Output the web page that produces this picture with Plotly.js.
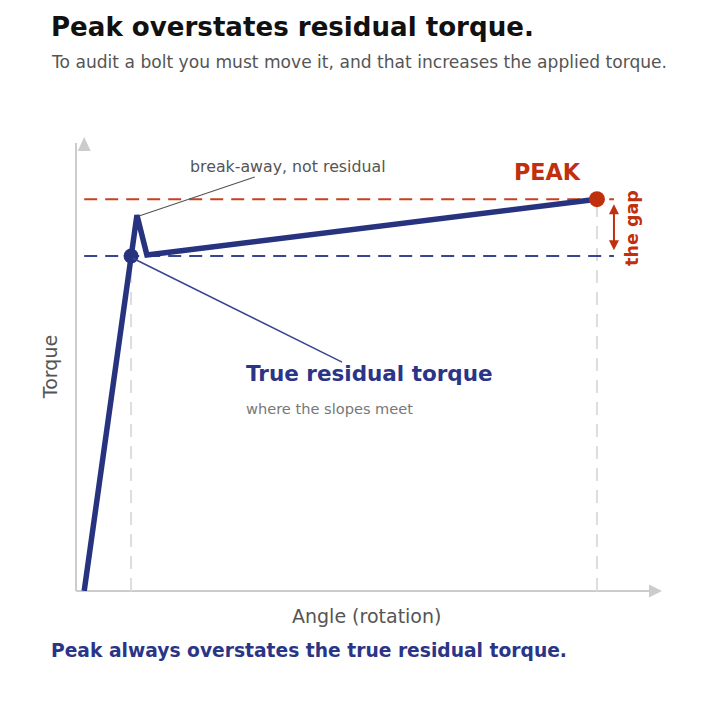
<!DOCTYPE html>
<html>
<head>
<meta charset="utf-8">
<script src="https://cdn.plot.ly/plotly-3.0.1.min.js"></script>
<style>
  html, body { margin: 0; padding: 0; background: #fff; }
  #chart { width: 724px; height: 726px; }
</style>
</head>
<body>
<div id="chart"></div>
<script>
// torque vs angle trace (angle 0-100, torque 0-100)
var curveAngle  = [1.4, 10.4, 12.1, 88.9];
var curveTorque = [0, 82.8, 74.0, 86.3];

var residualAngle  = [9.4];
var residualTorque = [73.8];
var peakAngle  = [88.9];
var peakTorque = [86.3];

var refStart = 1.4;   // where the dashed guides begin
var refEnd   = 91.8;  // where they stop, also the gap arrow

var navy = '#27337f';
var red  = '#c1300d';
var font = 'DejaVu Sans, sans-serif';

var traces = [
  {
    x: curveAngle, y: curveTorque,
    type: 'scatter', mode: 'lines',
    line: {color: navy, width: 5.5},
    hoverinfo: 'skip'
  },
  {
    x: residualAngle, y: residualTorque,
    type: 'scatter', mode: 'markers',
    marker: {color: navy, size: 15},
    hoverinfo: 'skip'
  },
  {
    x: peakAngle, y: peakTorque,
    type: 'scatter', mode: 'markers',
    marker: {color: red, size: 16},
    hoverinfo: 'skip'
  }
];

var shapes = [
  // axes, in paper space so nothing gets clipped
  {type: 'line', xref: 'paper', yref: 'paper', x0: 0, x1: 0, y0: 0, y1: 0.987,
   line: {color: '#cccccc', width: 2}, layer: 'below'},
  {type: 'line', xref: 'paper', yref: 'paper', x0: 0, x1: 0.98, y0: 0, y1: 0,
   line: {color: '#cccccc', width: 2}, layer: 'below'},
  {type: 'path', xref: 'x', yref: 'paper', xsizemode: 'pixel', ysizemode: 'pixel',
   xanchor: refStart, yanchor: 1, path: 'M-6.5,-14 L6.5,-14 L0,0 Z',
   fillcolor: '#cccccc', line: {width: 0}},
  {type: 'path', xref: 'paper', yref: 'paper', xsizemode: 'pixel', ysizemode: 'pixel',
   xanchor: 1, yanchor: 0, path: 'M0,0 L-13,6.5 L-13,-6.5 Z',
   fillcolor: '#cccccc', line: {width: 0}},
  // vertical guides
  {type: 'line', x0: residualAngle[0], x1: residualAngle[0], y0: 0, y1: residualTorque[0],
   line: {color: '#dddddd', width: 2, dash: '13px,9px'}, layer: 'below'},
  {type: 'line', x0: peakAngle[0], x1: peakAngle[0], y0: 0, y1: peakTorque[0],
   line: {color: '#dddddd', width: 2, dash: '13px,9px'}, layer: 'below'},
  // horizontal guides
  {type: 'line', x0: refStart, x1: refEnd, y0: peakTorque[0], y1: peakTorque[0],
   line: {color: '#c8401f', width: 2, dash: '13px,8px'}, layer: 'below'},
  {type: 'line', x0: refStart, x1: refEnd, y0: residualTorque[0], y1: residualTorque[0],
   line: {color: '#3a4590', width: 2, dash: '13px,8px'}, layer: 'below'},
  // leader lines
  {type: 'line', x0: 30.5, y0: 91.2, x1: 10.75, y1: 82.6,
   line: {color: '#555555', width: 1.2}},
  {type: 'line', x0: 45.4, y0: 50.4, x1: 9.7, y1: 73.3,
   line: {color: '#3a4590', width: 1.5}}
];

var annotations = [
  {xref: 'paper', yref: 'paper', x: -0.0461, y: 1.242, xanchor: 'left', yanchor: 'middle',
   text: '<b>Peak overstates residual torque.</b>', showarrow: false,
   font: {family: font, size: 26.1, color: '#111111'}},
  {xref: 'paper', yref: 'paper', x: -0.0461, y: 1.165, xanchor: 'left', yanchor: 'middle',
   text: 'To audit a bolt you must move it, and that increases the applied torque.', showarrow: false,
   font: {family: font, size: 17.1, color: '#555555'}},
  {xref: 'paper', yref: 'paper', x: -0.0461, y: -0.132, xanchor: 'left', yanchor: 'middle',
   text: '<b>Peak always overstates the true residual torque.</b>', showarrow: false,
   font: {family: font, size: 18.7, color: '#2b3587'}},
  {xref: 'paper', yref: 'paper', x: 0.495, y: -0.055, xanchor: 'center', yanchor: 'middle',
   text: 'Angle (rotation)', showarrow: false,
   font: {family: font, size: 19, color: '#555555'}},
  {xref: 'paper', yref: 'paper', x: -0.0444, y: 0.493, xanchor: 'center', yanchor: 'middle',
   text: 'Torque', textangle: -90, showarrow: false,
   font: {family: font, size: 19, color: '#555555'}},
  {x: 36.2, y: 93.6, xanchor: 'center', yanchor: 'middle',
   text: 'break-away, not residual', showarrow: false,
   font: {family: font, size: 15.8, color: '#555555'}},
  {x: 80.4, y: 92.3, xanchor: 'center', yanchor: 'middle',
   text: '<b>PEAK</b>', showarrow: false,
   font: {family: font, size: 22.3, color: red}},
  {x: 94.9, y: 80.0, xanchor: 'center', yanchor: 'middle',
   text: '<b>the gap</b>', textangle: -90, showarrow: false,
   font: {family: font, size: 17.5, color: red}},
  {x: 28.7, y: 47.8, xanchor: 'left', yanchor: 'middle',
   text: '<b>True residual torque</b>', showarrow: false,
   font: {family: font, size: 21.5, color: '#2b3587'}},
  {x: 28.7, y: 40.3, xanchor: 'left', yanchor: 'middle',
   text: 'where the slopes meet', showarrow: false,
   font: {family: font, size: 14.6, color: '#777777'}},
  // the gap arrow
  {x: refEnd, y: 85.2, ax: refEnd, ay: 74.7, axref: 'x', ayref: 'y',
   text: '', showarrow: true, arrowside: 'end+start', arrowhead: 2,
   arrowsize: 1, arrowwidth: 2, arrowcolor: red}
];

var layout = {
  width: 724,
  height: 726,
  margin: {l: 76, r: 62, t: 137, b: 135, pad: 0},
  paper_bgcolor: '#ffffff',
  plot_bgcolor: '#ffffff',
  showlegend: false,
  xaxis: {range: [0, 100], showgrid: false, zeroline: false, showline: false,
          showticklabels: false, ticks: '', fixedrange: true},
  yaxis: {range: [0, 100], showgrid: false, zeroline: false, showline: false,
          showticklabels: false, ticks: '', fixedrange: true},
  shapes: shapes,
  annotations: annotations
};

Plotly.newPlot('chart', traces, layout, {displayModeBar: false, staticPlot: true});
</script>
</body>
</html>
